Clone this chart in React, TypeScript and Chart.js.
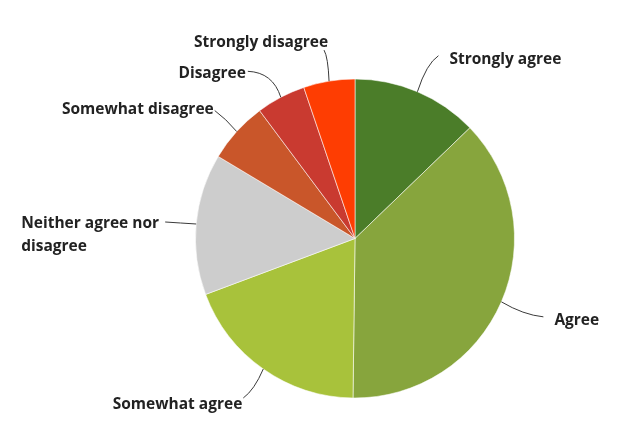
import React, { useEffect, useRef } from "react";
import { Chart, registerables } from "chart.js";

Chart.register(...registerables);

const categories = [
  "Strongly agree",
  "Agree",
  "Somewhat agree",
  "Neither agree nor disagree",
  "Somewhat disagree",
  "Disagree",
  "Strongly disagree",
];
const values = [12.8, 37.4, 19.1, 14.3, 6.2, 5.0, 5.2];
const colors = ["#4b7d29", "#87a53d", "#a8c23b", "#cdcdcd", "#c9562a", "#c93a30", "#fe3d02"];
const labelLines = [
  ["Strongly agree"],
  ["Agree"],
  ["Somewhat agree"],
  ["Neither agree nor", "disagree"],
  ["Somewhat disagree"],
  ["Disagree"],
  ["Strongly disagree"],
];

// leader/label layout relative to the slice's outer midpoint
const labelLayout = [
  { end: [21, -36], ctrl: [9, -28], text: [32, -28], align: "left" },
  { end: [42, 15], ctrl: [22, 13], text: [53, 23], align: "left" },
  { end: [-20, 29], ctrl: [-9, 21], text: [-21, 40], align: "right" },
  { end: [-31, -2], ctrl: [-16, -1], text: [-175, 4], align: "left" },
  { end: [-22, -21], ctrl: [-11, -13], text: [-23, -17.5], align: "right" },
  { end: [-33, -26], ctrl: [-8, -25], text: [-35, -19], align: "right" },
  { end: [-5, -31], ctrl: [-1, -24], text: [-1, -34], align: "right" },
];

const FONT = "bold 15.5px 'Open Sans'";

const leaderPlugin = {
  id: "leaderLabels",
  afterDraw(chart: any) {
    const ctx = chart.ctx;
    const meta = chart.getDatasetMeta(0);
    ctx.save();
    meta.data.forEach((arc: any, i: number) => {
      const p = arc.getProps(["x", "y", "startAngle", "endAngle", "outerRadius"], true);
      const mid = (p.startAngle + p.endAngle) / 2;
      const sx = p.x + Math.cos(mid) * p.outerRadius;
      const sy = p.y + Math.sin(mid) * p.outerRadius;
      const L = labelLayout[i];
      ctx.beginPath();
      ctx.moveTo(sx, sy);
      ctx.quadraticCurveTo(sx + L.ctrl[0], sy + L.ctrl[1], sx + L.end[0], sy + L.end[1]);
      ctx.strokeStyle = "#3a3a3a";
      ctx.lineWidth = 1;
      ctx.stroke();
      ctx.font = FONT;
      ctx.fillStyle = "#222222";
      ctx.textAlign = L.align;
      ctx.textBaseline = "alphabetic";
      labelLines[i].forEach((t, j) => {
        ctx.fillText(t, sx + L.text[0], sy + L.text[1] + j * 23);
      });
    });
    ctx.restore();
  },
};

export default function App() {
  const ref = useRef<HTMLCanvasElement>(null);
  useEffect(() => {
    if (!ref.current) return;
    const chart = new Chart(ref.current, {
      type: "pie",
      data: {
        labels: categories,
        datasets: [
          {
            data: values,
            backgroundColor: colors,
            borderColor: "rgba(255,255,255,0.55)",
            borderWidth: 1,
          },
        ],
      },
      options: {
        responsive: false,
        animation: false,
        layout: { padding: { top: 78.5, bottom: 41.5, left: 195, right: 123 } },
        plugins: { legend: { display: false }, tooltip: { enabled: false } },
      },
      plugins: [leaderPlugin],
    });
    return () => chart.destroy();
  }, []);
  return (
    <div style={{ position: "fixed", left: 0, top: 0, width: 638, height: 440, background: "#fff" }}>
      <canvas ref={ref} width={638} height={440} />
    </div>
  );
}
